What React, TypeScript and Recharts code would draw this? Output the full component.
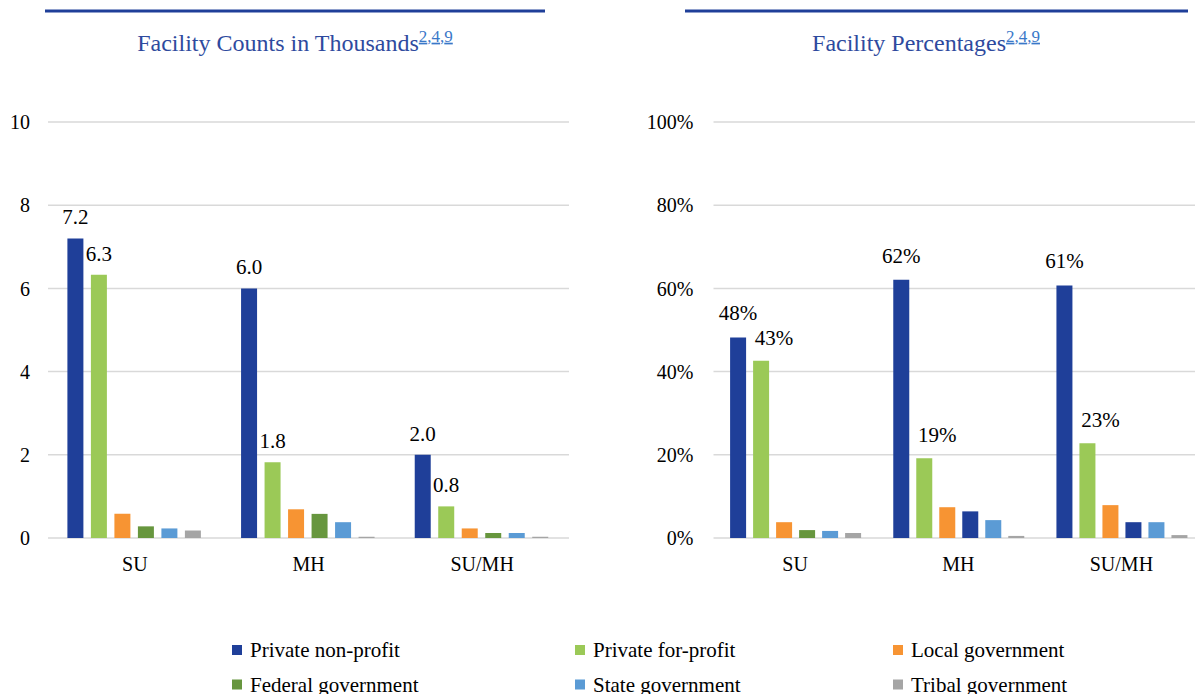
import React from "react";
import { BarChart, Bar, XAxis, YAxis, CartesianGrid, LabelList, Cell } from "recharts";

// ---------- data ----------
const categories = ["SU", "MH", "SU/MH"];
const seriesNames = [
  "Private non-profit",
  "Private for-profit",
  "Local government",
  "Federal government",
  "State government",
  "Tribal government",
];

// Facility counts in thousands
const countNonProfit = [7.2, 6.0, 2.0];
const countForProfit = [6.33, 1.82, 0.76];
const countLocal = [0.58, 0.69, 0.23];
const countFederal = [0.28, 0.58, 0.12];
const countState = [0.23, 0.38, 0.12];
const countTribal = [0.18, 0.03, 0.03];
const countTicks = [0, 2, 4, 6, 8, 10];

// Facility percentages
const pctNonProfit = [48.2, 62.1, 60.7];
const pctForProfit = [42.6, 19.2, 22.8];
const pctLocal = [3.8, 7.4, 7.9];
const pctFederal = [1.9, 6.4, 3.8];
const pctState = [1.7, 4.3, 3.8];
const pctTribal = [1.2, 0.5, 0.7];
const pctTicks = [0, 20, 40, 60, 80, 100];

const leftTitle = "Facility Counts in Thousands";
const rightTitle = "Facility Percentages";
const refs = ["2", "4", "9"];

// ---------- styles ----------
const FONT = "Liberation Serif, Tinos, Times New Roman, DejaVu Serif, serif";
const colors = ["#1F3F99", "#9BC957", "#F79433", "#67963E", "#5B9BD5", "#A5A5A5"];
const pctFederalColors = ["#67963E", "#1F3F99", "#1F3F99"];
const titleColor = "#2E4A9E";
const refColor = "#3A78C8";
const gridColor = "#D9D9D9";

const keys = ["s0", "s1", "s2", "s3", "s4", "s5"];
const countSeries = [countNonProfit, countForProfit, countLocal, countFederal, countState, countTribal];
const pctSeries = [pctNonProfit, pctForProfit, pctLocal, pctFederal, pctState, pctTribal];

const buildRows = (series: number[][]) =>
  categories.map((cat, i) => {
    const row: any = { cat };
    series.forEach((s, k) => (row[keys[k]] = s[i]));
    return row;
  });

const countRows = buildRows(countSeries);
const pctRows = buildRows(pctSeries);

function makeLabel(fmt: (v: number) => string, offset: number, dx: number) {
  return (props: any) => {
    const { x, y, width, value } = props;
    return (
      <text
        x={Number(x) + Number(width) / 2 + dx}
        y={Number(y) - offset}
        textAnchor="middle"
        style={{ fontFamily: FONT, fontSize: 21 }}
        fill="#000"
      >
        {fmt(Number(value))}
      </text>
    );
  };
}

const tickStyle = { fontSize: 20, fill: "#000", fontFamily: FONT, style: { fontFamily: FONT } };

function CountsChart() {
  return (
    <BarChart
      width={600}
      height={600}
      data={countRows}
      margin={{ top: 122, right: 31, left: 0, bottom: 0 }}
      barCategoryGap={19.4}
      barGap={7.5}
    >
      <CartesianGrid vertical={false} stroke={gridColor} strokeWidth={1.5} />
      <XAxis
        dataKey="cat"
        axisLine={false}
        tickLine={false}
        tickSize={0}
        tickMargin={19}
        height={62}
        interval={0}
        tick={tickStyle}
      />
      <YAxis
        type="number"
        domain={[0, 10]}
        ticks={countTicks}
        axisLine={false}
        tickLine={false}
        tickSize={0}
        tickMargin={18}
        width={48}
        tick={tickStyle}
      />
      {keys.map((k, i) => (
        <Bar key={k} dataKey={k} name={seriesNames[i]} fill={colors[i]} isAnimationActive={false}>
          {i < 2 && (
            <LabelList dataKey={k} content={makeLabel((v) => v.toFixed(1), 14, 0)} />
          )}
        </Bar>
      ))}
    </BarChart>
  );
}

function PctChart() {
  return (
    <BarChart
      width={563}
      height={600}
      data={pctRows}
      margin={{ top: 122, right: 0, left: 0, bottom: 0 }}
      barCategoryGap={16.6}
      barGap={7}
    >
      <CartesianGrid vertical={false} stroke={gridColor} strokeWidth={1.5} />
      <XAxis
        dataKey="cat"
        axisLine={false}
        tickLine={false}
        tickSize={0}
        tickMargin={19}
        height={62}
        interval={0}
        tick={tickStyle}
      />
      <YAxis
        type="number"
        domain={[0, 100]}
        ticks={pctTicks}
        axisLine={false}
        tickLine={false}
        tickSize={0}
        tickMargin={20}
        width={73.5}
        tick={tickStyle}
        tickFormatter={(v: number) => `${v}%`}
      />
      {keys.map((k, i) => (
        <Bar key={k} dataKey={k} name={seriesNames[i]} fill={colors[i]} isAnimationActive={false}>
          {i === 3 && pctRows.map((_, j) => <Cell key={j} fill={pctFederalColors[j]} />)}
          {i === 0 && (
            <LabelList dataKey={k} content={makeLabel((v) => `${Math.round(v)}%`, 17, 0)} />
          )}
          {i === 1 && (
            <LabelList dataKey={k} content={makeLabel((v) => `${Math.round(v)}%`, 16, 13)} />
          )}
        </Bar>
      ))}
    </BarChart>
  );
}

function Title({ cx, text }: { cx: number; text: string }) {
  return (
    <text x={cx} y={50.7} textAnchor="middle" style={{ fontFamily: FONT, fontSize: 24 }} fill={titleColor}>
      {text}
      {refs.map((r, i) => (
        <React.Fragment key={r}>
          {i > 0 && (
            <tspan style={{ fontSize: 17 }} fill={refColor}>
              ,
            </tspan>
          )}
          <tspan style={{ fontSize: 17, textDecoration: "underline" }} fill={refColor} dy={i === 0 ? -9 : 0}>
            {r}
          </tspan>
        </React.Fragment>
      ))}
    </text>
  );
}

const legendCols = [232, 575, 893];
const legendRows = [657, 691.5];

function Overlay() {
  return (
    <svg
      width={1195}
      height={694}
      style={{ position: "absolute", left: 0, top: 0, pointerEvents: "none" }}
    >
      <rect x={45} y={9.5} width={500} height={3} fill="#1F3F99" />
      <rect x={685} y={9.5} width={503} height={3} fill="#1F3F99" />
      <Title cx={295} text={leftTitle} />
      <Title cx={926} text={rightTitle} />
      {seriesNames.map((name, i) => {
        const col = i % 3;
        const row = Math.floor(i / 3);
        const x = legendCols[col];
        const y = legendRows[row];
        return (
          <g key={name}>
            <rect x={x} y={y - 12} width={10} height={10} fill={colors[i]} />
            <text x={x + 18} y={y} style={{ fontFamily: FONT, fontSize: 21 }} fill="#000">
              {name}
            </text>
          </g>
        );
      })}
    </svg>
  );
}

export default function App() {
  return (
    <div
      style={{
        position: "relative",
        width: 1195,
        height: 694,
        overflow: "hidden",
        background: "#fff",
        fontFamily: FONT,
      }}
    >
      <style>{"body{margin:0;}"}</style>
      <div style={{ position: "absolute", left: 0, top: 0 }}>
        <CountsChart />
      </div>
      <div style={{ position: "absolute", left: 640, top: 0 }}>
        <PctChart />
      </div>
      <Overlay />
    </div>
  );
}
